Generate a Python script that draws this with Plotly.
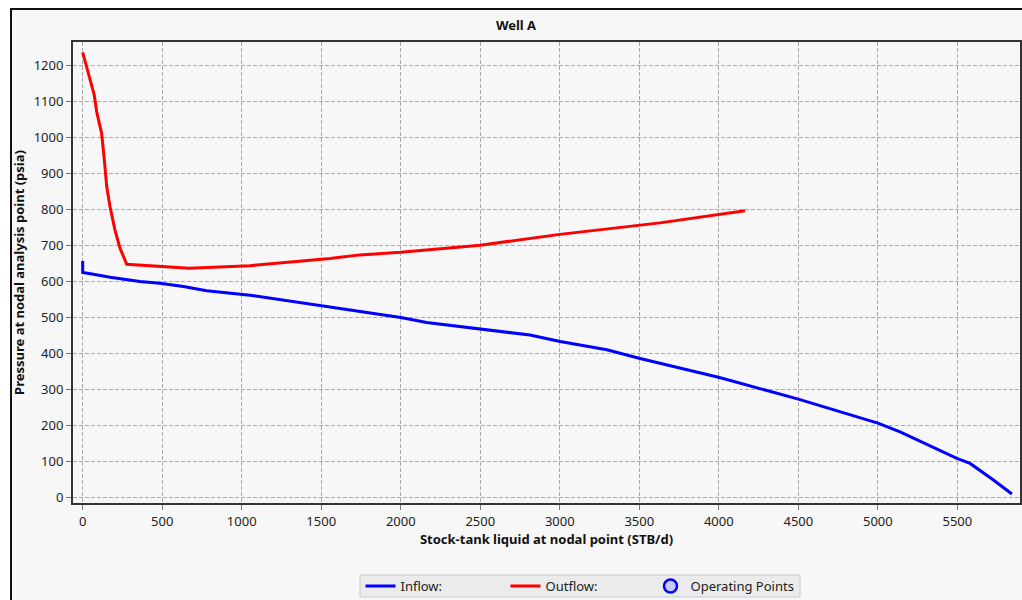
import plotly.graph_objects as go

# Inflow (IPR) curve
inflow_x = [0, 0, 67, 172, 360, 486, 633, 780, 1052, 1325, 1555, 1744, 1912, 2000, 2163,
            2499, 2813, 3002, 3296, 3505, 3757, 4004, 4500, 5000, 5140, 5497, 5580, 5727, 5843]
inflow_y = [657, 625, 620, 612, 600, 595, 586, 574, 562, 544, 530, 518, 507, 500, 486,
            467, 451, 433, 410, 386, 360, 333, 273, 206, 182, 108, 94, 48, 9]

# Outflow (VLP) curve
outflow_x = [0, 25, 46, 73, 88, 119, 136, 151, 172, 203, 235, 277, 670, 1052, 1555, 1744,
             2000, 2500, 3000, 3500, 3630, 4165]
outflow_y = [1237, 1197, 1165, 1118, 1072, 1012, 938, 864, 808, 743, 692, 648, 637, 644, 664, 674,
             681, 701, 731, 756, 763, 797]

title_text = "Well A"
x_title = "Stock-tank liquid at nodal point (STB/d)"
y_title = "Pressure at nodal analysis point (psia)"

FONT = "Noto Sans"

fig = go.Figure()
fig.add_trace(go.Scatter(x=inflow_x, y=inflow_y, mode="lines", name="Inflow:",
                         line=dict(color="#0000ff", width=3)))
fig.add_trace(go.Scatter(x=outflow_x, y=outflow_y, mode="lines", name="Outflow:",
                         line=dict(color="#ff0000", width=3)))
fig.add_trace(go.Scatter(x=[None], y=[None], mode="markers", name="Operating Points",
                         marker=dict(symbol="circle", size=13, color="#c8c8ff",
                                     line=dict(color="#0000ff", width=2.5))))

W, H = 1022, 600
ml, mr, mt, mb = 73, 2, 42, 97
pw = W - ml - mr
ph = H - mt - mb


def px_x(p):
    return (p - ml) / pw


def px_y(p):
    return (ph + mt - p) / ph


# outer frame
fig.add_shape(type="rect", xref="paper", yref="paper",
              x0=px_x(11), x1=px_x(W + 20), y0=px_y(H + 20), y1=px_y(9),
              line=dict(color="#111111", width=2), fillcolor="#f7f7f7", layer="below")
# legend box
fig.add_shape(type="rect", xref="paper", yref="paper",
              x0=px_x(360), x1=px_x(800), y0=px_y(597), y1=px_y(575),
              line=dict(color="#c9c9d2", width=1), fillcolor="#ebebeb", layer="below")

axis_common = dict(
    showgrid=True, gridcolor="#aaaaaa", griddash="4px,2px", gridwidth=1,
    showline=True, linecolor="#333333", linewidth=2, mirror=True,
    ticks="outside", ticklen=5, tickcolor="#777777", tickwidth=1,
    tickfont=dict(family=FONT, size=13, color="#222222"),
    zeroline=False, automargin=False,
)

fig.update_layout(
    width=W, height=H,
    margin=dict(l=ml, r=mr, t=mt, b=mb, autoexpand=False),
    paper_bgcolor="#ffffff",
    plot_bgcolor="#f9f9f9",
    title=dict(text="<b>" + title_text + "</b>", x=px_x(516), xref="paper", xanchor="center",
               y=1 - 25 / H, yanchor="middle",
               font=dict(family=FONT, size=13, color="#111111")),
    xaxis=dict(range=[-61, 5894], dtick=500, tick0=0,
               title=dict(text="<b>" + x_title + "</b>", standoff=4,
                          font=dict(family=FONT, size=13, color="#111111")),
               **axis_common),
    yaxis=dict(range=[-16, 1266], dtick=100, tick0=0,
               title=dict(text="<b>" + y_title + "</b>", standoff=6,
                          font=dict(family=FONT, size=13, color="#111111")),
               **axis_common),
    legend=dict(orientation="h", x=px_x(578), xanchor="center",
                y=px_y(586), yanchor="middle",
                bgcolor="rgba(0,0,0,0)", borderwidth=0,
                entrywidth=100, entrywidthmode="pixels", itemwidth=30,
                font=dict(family=FONT, size=13, color="#222222")),
    showlegend=True,
)

fig.write_html("out.html", config={"displayModeBar": False},
               post_script="document.body.style.margin='0';document.body.style.padding='0';")
